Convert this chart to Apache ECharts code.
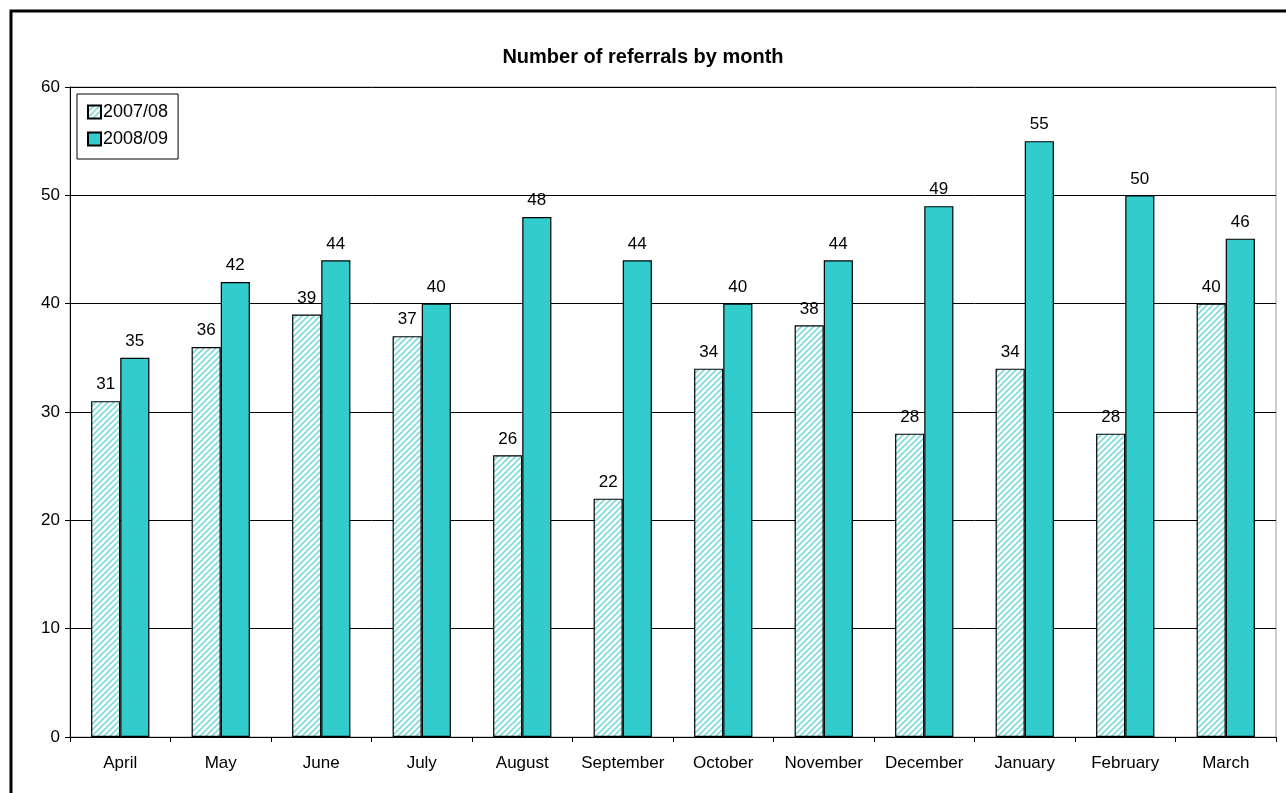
<!DOCTYPE html>
<html>
<head>
<meta charset="utf-8">
<script src="https://cdn.jsdelivr.net/npm/echarts@6/dist/echarts.min.js"></script>
<style>
  html, body { margin: 0; padding: 0; background: #fff; }
  #chart { width: 1286px; height: 793px; }
</style>
</head>
<body>
<div id="chart"></div>
<script>
var months = ['April', 'May', 'June', 'July', 'August', 'September', 'October',
    'November', 'December', 'January', 'February', 'March'];
var seriesNames = ['2007/08', '2008/09'];
var values0708 = [31, 36, 39, 37, 26, 22, 34, 38, 28, 34, 28, 40];
var values0809 = [35, 42, 44, 40, 48, 44, 40, 44, 49, 55, 50, 46];
var yTicks = [0, 60, 10]; // min, max, interval

function hatchPattern() {
    var size = 6;
    var c = document.createElement('canvas');
    c.width = size;
    c.height = size;
    var ctx = c.getContext('2d');
    ctx.fillStyle = '#ffffff';
    ctx.fillRect(0, 0, size, size);
    ctx.strokeStyle = '#7ddada';
    ctx.lineWidth = 1.6;
    ctx.beginPath();
    ctx.moveTo(0, size); ctx.lineTo(size, 0);
    ctx.moveTo(-size / 2, size / 2); ctx.lineTo(size / 2, -size / 2);
    ctx.moveTo(size / 2, size * 1.5); ctx.lineTo(size * 1.5, size / 2);
    ctx.stroke();
    return c;
}

var chart = echarts.init(document.getElementById('chart'));
var font = 'Liberation Sans, Arial, sans-serif';

var option = {
    animation: false,
    backgroundColor: '#fff',
    textStyle: { fontFamily: font },
    title: {
        text: 'Number of referrals by month',
        left: 'center',
        top: 42,
        textStyle: { fontSize: 20, fontWeight: 'bold', color: '#000', fontFamily: font }
    },
    graphic: [{
        type: 'rect',
        shape: { x: 11, y: 11, width: 1300, height: 820 },
        style: { fill: null, stroke: '#000', lineWidth: 3 },
        silent: true
    }],
    legend: {
        orient: 'vertical',
        left: 77,
        top: 94,
        padding: [9, 10, 11, 10],
        itemGap: 9,
        itemWidth: 13,
        itemHeight: 13,
        borderColor: '#000',
        borderWidth: 1,
        backgroundColor: '#fff',
        icon: 'rect',
        textStyle: { fontSize: 18, color: '#000', fontFamily: font, padding: [0, 0, 0, -3] },
        data: seriesNames
    },
    grid: {
        left: 70,
        right: 10,
        top: 87,
        bottom: 56,
        show: true,
        borderColor: '#999',
        borderWidth: 1
    },
    xAxis: {
        type: 'category',
        data: months,
        axisLine: { lineStyle: { color: '#000', width: 1 } },
        axisTick: { show: true, length: 5, lineStyle: { color: '#000' } },
        axisLabel: { fontSize: 17, color: '#000', margin: 18, interval: 0, fontFamily: font }
    },
    yAxis: {
        type: 'value',
        min: yTicks[0],
        max: yTicks[1],
        interval: yTicks[2],
        axisLine: { show: true, lineStyle: { color: '#000', width: 1 } },
        axisTick: { show: true, length: 5, lineStyle: { color: '#000' } },
        axisLabel: { fontSize: 17, color: '#000', margin: 10, fontFamily: font },
        splitLine: { lineStyle: { color: '#000', width: 1 } }
    },
    series: [{
        name: seriesNames[0],
        type: 'bar',
        data: values0708,
        barGap: '0%',
        barCategoryGap: '42%',
        itemStyle: {
            color: { image: hatchPattern(), repeat: 'repeat' },
            borderColor: '#000',
            borderWidth: 1.2
        },
        label: { show: true, position: 'top', distance: 8, fontSize: 17, color: '#000', fontFamily: font }
    }, {
        name: seriesNames[1],
        type: 'bar',
        data: values0809,
        itemStyle: {
            color: '#33cccc',
            borderColor: '#000',
            borderWidth: 1.2
        },
        label: { show: true, position: 'top', distance: 8, fontSize: 17, color: '#000', fontFamily: font }
    }]
};

chart.setOption(option);
</script>
</body>
</html>
